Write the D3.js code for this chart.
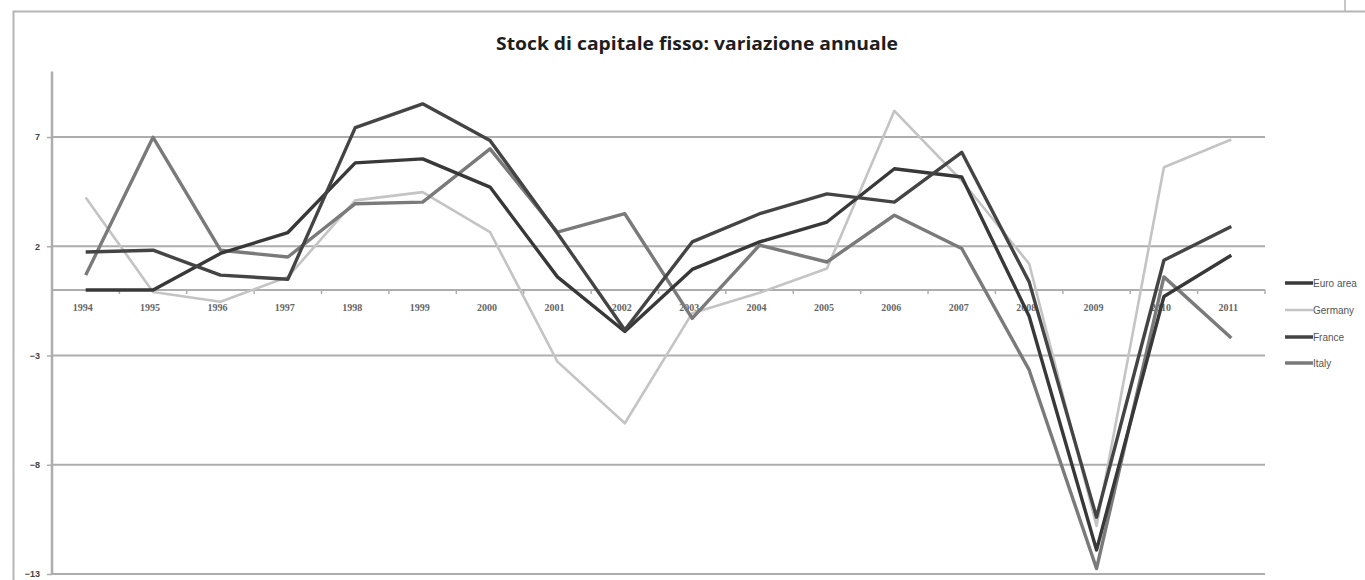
<!DOCTYPE html>
<html>
<head>
<meta charset="utf-8">
<script src="https://cdn.jsdelivr.net/npm/d3@7"></script>
<style>
  html, body { margin: 0; padding: 0; background: #fff; }
  svg { display: block; }
</style>
</head>
<body>
<svg id="chart" width="1365" height="580"></svg>
<script>
const years = ["1994","1995","1996","1997","1998","1999","2000","2001","2002","2003","2004","2005","2006","2007","2008","2009","2010","2011"];
const euroArea = [0.0, 0.0, 1.67, 2.63, 5.82, 6.0, 4.71, 0.6, -1.9, 0.94, 2.2, 3.11, 5.55, 5.17, -1.2, -11.9, -0.3, 1.59];
const germany  = [4.23, -0.09, -0.54, 0.6, 4.1, 4.48, 2.65, -3.28, -6.1, -1.06, -0.13, 0.98, 8.2, 5.0, 1.2, -10.8, 5.62, 6.89];
const france   = [1.74, 1.82, 0.68, 0.49, 7.43, 8.52, 6.84, 2.6, -1.83, 2.2, 3.49, 4.4, 4.02, 6.3, 0.37, -10.4, 1.36, 2.91];
const italy    = [0.68, 6.99, 1.82, 1.51, 3.95, 4.02, 6.46, 2.65, 3.49, -1.3, 2.05, 1.28, 3.42, 1.9, -3.66, -12.75, 0.6, -2.2];
const yTicks = [-13, -8, -3, 2, 7];
const seriesNames = ["Euro area", "Germany", "France", "Italy"];
const seriesColors = ["#383838", "#c4c4c4", "#444444", "#7a7a7a"];
const title = "Stock di capitale fisso: variazione annuale";

const seriesData = [euroArea, germany, france, italy];

const svg = d3.select("#chart");
const plotLeft = 52, plotRight = 1265, plotTop = 71.5, plotBottom = 574;

const x = d3.scalePoint().domain(years).range([plotLeft, plotRight]).padding(0.5);
const y = d3.scaleLinear().domain([-13, 10]).range([plotBottom, plotTop]);
const gridColor = "#adadad";

// outer frame
svg.append("path")
  .attr("d", "M13.5,580 L13.5,11.5 L1365,11.5")
  .attr("fill", "none").attr("stroke", "#b5b5b5").attr("stroke-width", 2);
svg.append("line")
  .attr("x1", 1345).attr("x2", 1345).attr("y1", 0).attr("y2", 11)
  .attr("stroke", "#b5b5b5").attr("stroke-width", 1.5);

// title
svg.append("text")
  .attr("x", 697).attr("y", 50)
  .attr("text-anchor", "middle")
  .attr("font-family", "'Open Sans', 'Liberation Sans', sans-serif")
  .attr("font-weight", "bold")
  .attr("font-size", 18)
  .attr("textLength", 402)
  .attr("lengthAdjust", "spacingAndGlyphs")
  .attr("fill", "#1e1e1e")
  .text(title);

// horizontal gridlines
svg.append("g").selectAll("line").data(yTicks).join("line")
  .attr("x1", plotLeft).attr("x2", plotRight)
  .attr("y1", d => y(d)).attr("y2", d => y(d))
  .attr("stroke", gridColor).attr("stroke-width", 2);

// y axis
const yAxis = d3.axisLeft(y).tickValues(yTicks).tickSize(5).tickPadding(7).tickFormat(d3.format("d"));
const gy = svg.append("g").attr("transform", `translate(${plotLeft},0)`).call(yAxis);
gy.select(".domain").remove();
gy.selectAll(".tick line").attr("stroke", gridColor).attr("stroke-width", 1.5);
gy.selectAll(".tick text").attr("font-family", "'Liberation Sans', sans-serif")
  .attr("font-size", 9).attr("font-weight", "bold").attr("fill", "#444");
svg.append("line")
  .attr("x1", plotLeft).attr("x2", plotLeft)
  .attr("y1", plotTop).attr("y2", plotBottom)
  .attr("stroke", gridColor).attr("stroke-width", 2.5);

// x axis at zero
const gx = svg.append("g").attr("transform", `translate(0,${y(0)})`);
gx.append("line").attr("x1", plotLeft).attr("x2", plotRight)
  .attr("stroke", gridColor).attr("stroke-width", 2);
const step = x.step();
const boundaries = years.map((d) => x(d) + step / 2);
gx.selectAll("line.tk").data(boundaries).join("line").attr("class", "tk")
  .attr("x1", d => d).attr("x2", d => d).attr("y1", 0).attr("y2", 4)
  .attr("stroke", gridColor).attr("stroke-width", 1.5);
gx.selectAll("text").data(years).join("text")
  .attr("x", d => x(d) - 3).attr("y", 21)
  .attr("text-anchor", "middle")
  .attr("font-family", "'Liberation Serif', serif")
  .attr("font-size", 10)
  .attr("font-weight", "bold")
  .attr("fill", "#666")
  .text(d => d);

// lines
const line = d3.line().x((d, i) => x(years[i])).y(d => y(d));
const drawOrder = [1, 3, 0, 2];
drawOrder.forEach(si => {
  svg.append("path")
    .datum(seriesData[si])
    .attr("d", line)
    .attr("fill", "none")
    .attr("stroke", seriesColors[si])
    .attr("stroke-width", si === 1 ? 2.6 : 3.4)
    .attr("stroke-linejoin", "round");
});

// legend
const legendY = [283, 310, 337, 363];
const lg = svg.append("g");
seriesNames.forEach((name, i) => {
  lg.append("line").attr("x1", 1285).attr("x2", 1313)
    .attr("y1", legendY[i]).attr("y2", legendY[i])
    .attr("stroke", seriesColors[i]).attr("stroke-width", i === 1 ? 2.5 : 3.5);
  lg.append("text").attr("x", 1313).attr("y", legendY[i] + 3.5)
    .attr("font-family", "'Liberation Sans', sans-serif")
    .attr("font-size", 10).attr("fill", "#555")
    .text(name);
});
</script>
</body>
</html>
